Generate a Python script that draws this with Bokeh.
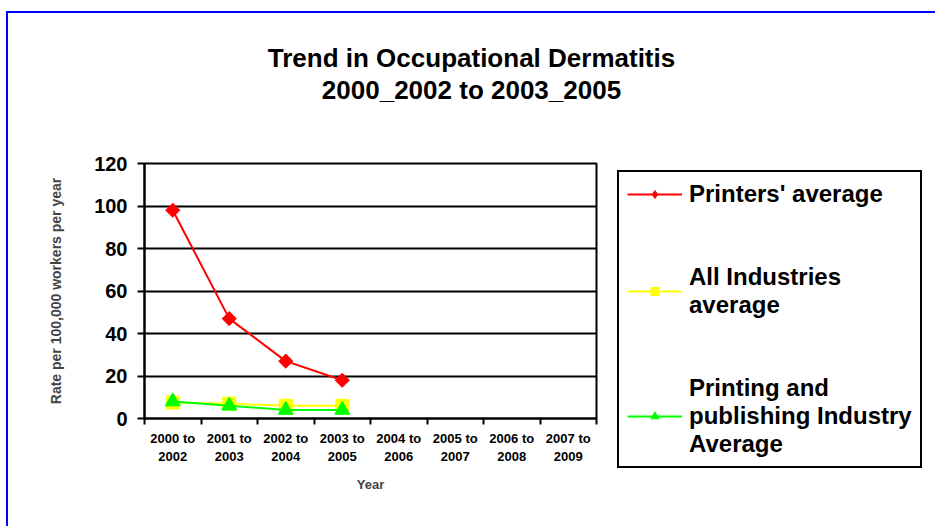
import math
from bokeh.plotting import figure
from bokeh.layouts import column, row
from bokeh.models import FixedTicker, Legend, LegendItem, Div
from bokeh.embed import file_html
from bokeh.resources import INLINE

# ---- data ----
periods = ["2000 to\n2002", "2001 to\n2003", "2002 to\n2004", "2003 to\n2005",
           "2004 to\n2006", "2005 to\n2007", "2006 to\n2008", "2007 to\n2009"]
printers_avg = [98, 47, 27, 18]
all_industries_avg = [7.5, 7, 6, 6]
printing_publishing_avg = [8, 6, 4, 4]
y_ticks = [0, 20, 40, 60, 80, 100, 120]

title_lines = ["Trend in Occupational Dermatitis", "2000_2002 to 2003_2005"]
series_names = ["Printers' average", "All Industries\naverage",
                "Printing and\npublishing Industry\nAverage"]
series_colors = ["#ff0000", "#ffff00", "#00ff00"]

FONT = "Liberation Sans"

centers = [i + 0.5 for i in range(len(periods))]
bounds = list(range(len(periods) + 1))

# ---- title ----
title_div = Div(
    text=('<div style="font-family:\'Liberation Sans\';font-size:26px;font-weight:bold;'
          'color:black;text-align:center;line-height:32px;padding-top:29px;'
          'padding-left:10px;width:917px;">' + "<br>".join(title_lines) + "</div>"),
    width=927, height=100, margin=0, styles={"background-color": "white"})

# ---- main plot ----
p = figure(width=592, height=413, x_range=(0, len(periods)), y_range=(y_ticks[0], y_ticks[-1]),
           output_backend="svg", toolbar_location=None, margin=0,
           min_border_left=136, min_border_right=4, min_border_top=50, min_border_bottom=108)

p.outline_line_color = "black"
p.outline_line_width = 2
p.background_fill_color = "white"
p.border_fill_color = "white"

p.xgrid.grid_line_color = None
p.ygrid.ticker = FixedTicker(ticks=y_ticks)
p.ygrid.grid_line_color = "black"
p.ygrid.grid_line_width = 2

xa = p.xaxis[0]
xa.ticker = FixedTicker(ticks=centers, minor_ticks=bounds)
xa.major_label_overrides = {c: lab for c, lab in zip(centers, periods)}
xa.major_tick_line_color = None
xa.major_tick_out = 0
xa.major_tick_in = 0
xa.minor_tick_line_color = "black"
xa.minor_tick_line_width = 2
xa.minor_tick_out = 6
xa.minor_tick_in = 0
xa.axis_line_color = "black"
xa.axis_line_width = 2
xa.major_label_standoff = 6
xa.major_label_text_font = FONT
xa.major_label_text_font_size = "13px"
xa.major_label_text_font_style = "bold"
xa.major_label_text_color = "black"
xa.major_label_text_line_height = 1.2
xa.axis_label = "Year"
xa.axis_label_text_font = FONT
xa.axis_label_text_font_size = "13px"
xa.axis_label_text_font_style = "bold"
xa.axis_label_standoff = 10

ya = p.yaxis[0]
ya.ticker = FixedTicker(ticks=y_ticks)
ya.major_tick_line_color = "black"
ya.major_tick_line_width = 2
ya.major_tick_out = 7
ya.major_tick_in = 0
ya.minor_tick_line_color = None
ya.axis_line_color = "black"
ya.axis_line_width = 2
ya.major_label_standoff = 10
ya.major_label_text_font = FONT
ya.major_label_text_font_size = "20px"
ya.major_label_text_font_style = "bold"
ya.major_label_text_color = "black"
ya.axis_label = "Rate per 100,000 workers per year"
ya.axis_label_text_font = FONT
ya.axis_label_text_font_size = "14px"
ya.axis_label_text_font_style = "bold"
ya.axis_label_standoff = 27

n = len(printers_avg)
xs = centers[:n]
series_values = [printers_avg, all_industries_avg, printing_publishing_avg]

p.line(xs, printers_avg, line_color=series_colors[0], line_width=2)
p.scatter(xs, printers_avg, marker="square", angle=math.pi / 4, size=10,
          fill_color=series_colors[0], line_color=series_colors[0])
p.line(xs, all_industries_avg, line_color=series_colors[1], line_width=2)
p.scatter(xs, all_industries_avg, marker="square", size=13,
          fill_color=series_colors[1], line_color=series_colors[1])
p.line(xs, printing_publishing_avg, line_color=series_colors[2], line_width=2)
p.scatter(xs, printing_publishing_avg, marker="triangle", size=15,
          fill_color=series_colors[2], line_color=series_colors[2])

# ---- legend panel (separate canvas to the right of the plot) ----
# its ranges lie away from the data so only the legend shows on it
lf = figure(width=335, height=413, x_range=(100, 101), y_range=(1000, 1001),
            output_backend="svg", toolbar_location=None, margin=0,
            min_border_left=0, min_border_right=0, min_border_top=0, min_border_bottom=0)
lf.frame_align = False
lf.axis.visible = False
lf.grid.visible = False
lf.outline_line_color = None
lf.background_fill_color = "white"
lf.border_fill_color = "white"

markers = ["diamond", "square", "triangle"]
msizes = [20, 14, 16]
items = []
for name, col, mk, ms, vals in zip(series_names, series_colors, markers, msizes, series_values):
    rl = lf.line(xs, vals, line_color=col, line_width=2)
    rm = lf.scatter(xs, vals, marker=mk, size=ms, fill_color=col, line_color=col)
    items.append(LegendItem(label=name, renderers=[rl, rm]))

legend = Legend(items=items, location=(17, 58))
legend.border_line_color = "black"
legend.border_line_width = 2
legend.border_line_alpha = 1
legend.background_fill_color = "white"
legend.background_fill_alpha = 1
legend.label_text_font = FONT
legend.label_text_font_size = "24px"
legend.label_text_font_style = "bold"
legend.label_text_color = "black"
legend.label_text_line_height = 1.2
legend.glyph_width = 55
legend.glyph_height = 20
legend.label_standoff = 7
legend.padding = 8
legend.spacing = 55
legend.margin = 0
lf.add_layout(legend, "center")

layout = column(title_div, row(p, lf, spacing=0), spacing=0,
                styles={"margin-top": "11px", "margin-left": "6px",
                        "border-top": "2px solid #0000ff", "border-left": "2px solid #0000ff"})

open("out.html", "w").write(file_html(layout, INLINE))
